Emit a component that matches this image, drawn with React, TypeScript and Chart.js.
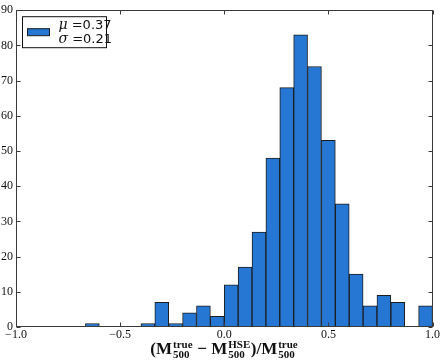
import React, { useEffect, useRef } from "react";
import { Chart, registerables } from "chart.js";

Chart.register(...registerables);

// Histogram definition
const BIN_MIN = -1.0;
const BIN_MAX = 1.0;
const BIN_COUNT = 30;
const counts = [
  0, 0, 0, 0, 0, 1, 0, 0, 0, 1,
  7, 1, 4, 6, 3, 12, 17, 27, 48, 68,
  83, 74, 53, 35, 15, 6, 9, 7, 0, 6,
];
const xTicks = [-1.0, -0.5, 0.0, 0.5, 1.0];
const yTicks = [0, 10, 20, 30, 40, 50, 60, 70, 80, 90];
const legendLines = [
  { sym: "μ", val: " =0.37" },
  { sym: "σ", val: " =0.21" },
];

const BAR_FILL = "#2577d3";
const BAR_EDGE = "#1c1c1c";
const FRAME = "#3a3a3a";

const binWidth = (BIN_MAX - BIN_MIN) / BIN_COUNT;
const points = counts.map((c, i) => ({ x: BIN_MIN + (i + 0.5) * binWidth, y: c }));

const fmtX = (v: number) => {
  const s = Math.abs(v).toFixed(1);
  return v < -1e-9 ? "\u2212" + s : s;
};

const framePlugin = {
  id: "frame",
  afterDatasetsDraw(chart: any) {
    const { ctx, chartArea: a, scales } = chart;
    ctx.save();
    ctx.strokeStyle = FRAME;
    ctx.lineWidth = 1;
    const L = Math.round(a.left) + 0.5;
    const R = Math.round(a.right) - 0.5;
    const T = Math.round(a.top) + 0.5;
    const B = Math.round(a.bottom) - 0.5;
    ctx.strokeRect(L, T, R - L, B - T);
    const tl = 4;
    ctx.beginPath();
    xTicks.forEach((v) => {
      const px = Math.round(scales.x.getPixelForValue(v)) + 0.5;
      ctx.moveTo(px, B);
      ctx.lineTo(px, B - tl);
      ctx.moveTo(px, T);
      ctx.lineTo(px, T + tl);
    });
    yTicks.forEach((v) => {
      const py = Math.round(scales.y.getPixelForValue(v)) + 0.5;
      ctx.moveTo(L, py);
      ctx.lineTo(L + tl, py);
      ctx.moveTo(R, py);
      ctx.lineTo(R - tl, py);
    });
    ctx.stroke();

    // legend
    const bx = a.left + 6.5;
    const by = a.top + 6.5;
    const bw = 84;
    const bh = 31;
    ctx.fillStyle = "#ffffff";
    ctx.fillRect(bx, by, bw, bh);
    ctx.strokeStyle = "#111";
    ctx.strokeRect(bx, by, bw, bh);
    ctx.fillStyle = BAR_FILL;
    ctx.fillRect(bx + 5, by + 12, 22, 7);
    ctx.strokeStyle = BAR_EDGE;
    ctx.strokeRect(bx + 5, by + 12, 22, 7);
    ctx.fillStyle = "#111";
    ctx.textBaseline = "alphabetic";
    ctx.textAlign = "left";
    legendLines.forEach((ln, i) => {
      const y = by + 12.5 + i * 13.5;
      let x = bx + 36;
      ctx.font = 'italic 14px "DejaVu Serif"';
      ctx.fillText(ln.sym, x, y);
      x += ctx.measureText(ln.sym).width;
      ctx.font = '13px "DejaVu Sans"';
      ctx.fillText(ln.val, x, y);
    });

    // x axis label: (M_500^true − M_500^HSE)/M_500^true
    const mainFont = 'bold 17px "Liberation Serif"';
    const scriptFont = 'bold 11px "Liberation Serif"';
    const segs: any[] = [
      { t: "(M" },
      { sup: "true", sub: "500" },
      { t: " \u2212 M" },
      { sup: "HSE", sub: "500" },
      { t: ")/M" },
      { sup: "true", sub: "500" },
    ];
    const widthOf = (s: any) => {
      if (s.t !== undefined) {
        ctx.font = mainFont;
        return ctx.measureText(s.t).width;
      }
      ctx.font = scriptFont;
      return Math.max(ctx.measureText(s.sup).width, ctx.measureText(s.sub).width) + 1.5;
    };
    const total = segs.reduce((acc, s) => acc + widthOf(s), 0);
    let x = (a.left + a.right) / 2 - total / 2;
    const base = 354;
    segs.forEach((s) => {
      const w = widthOf(s);
      if (s.t !== undefined) {
        ctx.font = mainFont;
        ctx.fillText(s.t, x, base);
      } else {
        ctx.font = scriptFont;
        ctx.fillText(s.sup, x + 1, base - 6);
        ctx.fillText(s.sub, x + 1, base + 4);
      }
      x += w;
    });
    ctx.restore();
  },
};

export default function App() {
  const ref = useRef<HTMLCanvasElement | null>(null);
  useEffect(() => {
    if (!ref.current) return;
    const chart = new Chart(ref.current, {
      type: "bar",
      data: {
        datasets: [
          {
            data: points as any,
            backgroundColor: BAR_FILL,
            borderColor: BAR_EDGE,
            borderWidth: 1,
            borderSkipped: false,
            barPercentage: 1,
            categoryPercentage: 1,
          },
        ],
      },
      options: {
        animation: false,
        responsive: false,
        layout: { padding: { top: 4, right: 8, left: 0, bottom: 0 } },
        plugins: { legend: { display: false }, tooltip: { enabled: false } },
        scales: {
          x: {
            type: "linear",
            min: BIN_MIN,
            max: BIN_MAX,
            offset: false,
            grid: { display: false, drawTicks: false },
            border: { display: false },
            afterBuildTicks: (s: any) => {
              s.ticks = xTicks.map((v) => ({ value: v }));
            },
            afterFit: (s: any) => {
              s.height = 33;
            },
            ticks: {
              autoSkip: false,
              maxRotation: 0,
              padding: 1,
              color: "#111",
              font: { family: "Liberation Serif", size: 12 },
              callback: (v: any) => fmtX(Number(v)),
            },
          },
          y: {
            min: 0,
            max: 90,
            grid: { display: false, drawTicks: false },
            border: { display: false },
            afterBuildTicks: (s: any) => {
              s.ticks = yTicks.map((v) => ({ value: v }));
            },
            afterFit: (s: any) => {
              s.width = 16;
            },
            ticks: {
              padding: 3,
              color: "#111",
              font: { family: "Liberation Serif", size: 12 },
            },
          },
        },
      },
      plugins: [framePlugin],
    });
    return () => chart.destroy();
  }, []);
  return (
    <div style={{ position: "absolute", left: 0, top: 0, width: 441, height: 360, background: "#fff" }}>
      <canvas ref={ref} width={441} height={360} />
    </div>
  );
}
